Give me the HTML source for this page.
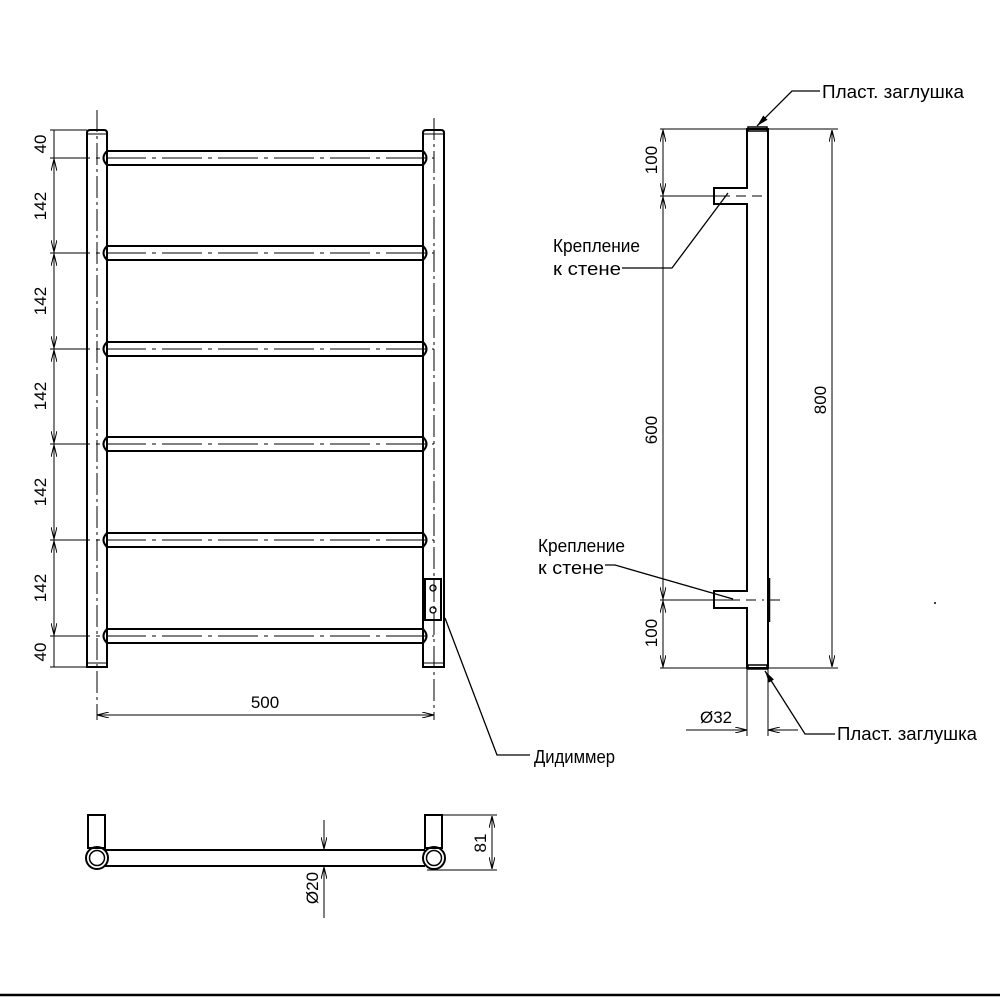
<!DOCTYPE html>
<html><head><meta charset="utf-8"><style>html,body{margin:0;padding:0;background:#fff}svg{display:block}</style></head>
<body>
<svg width="1000" height="1000" viewBox="0 0 1000 1000" xmlns="http://www.w3.org/2000/svg" font-family="'Liberation Sans', 'DejaVu Sans', sans-serif">
<defs>
<marker id="a" viewBox="0 0 12 6" refX="12" refY="3" markerWidth="12" markerHeight="6" orient="auto-start-reverse" markerUnits="userSpaceOnUse"><path d="M0,0 L12,3 L0,6" fill="none" stroke="#000" stroke-width="1"/></marker>
<marker id="b" viewBox="0 0 12 6" refX="12" refY="3" markerWidth="12" markerHeight="6" orient="auto" markerUnits="userSpaceOnUse"><path d="M0,0 L12,3 L0,6 z" fill="#000"/></marker>
</defs>
<rect width="1000" height="1000" fill="#fff"/>
<g fill="none" stroke="#000">
<path d="M87,667 V133 Q87,130 90,130 H104 Q107,130 107,133 V667 Z" stroke-width="2"/>
<path d="M423,667 V133 Q423,130 426,130 H441 Q444,130 444,133 V667 Z" stroke-width="2"/>
<line x1="87" y1="134" x2="107" y2="134" stroke-width="1"/>
<line x1="423" y1="134" x2="444" y2="134" stroke-width="1"/>
<line x1="87" y1="663" x2="107" y2="663" stroke-width="1"/>
<line x1="423" y1="663" x2="444" y2="663" stroke-width="1"/>
<line x1="97" y1="110" x2="97" y2="720" stroke-width="1" stroke-dasharray="22,4,3,4"/>
<line x1="434" y1="118" x2="434" y2="720" stroke-width="1" stroke-dasharray="22,4,3,4"/>
<g stroke-width="2">
<path d="M107,151 H423 M107,165 H423 M107,151 Q100,158 107,165 M423,151 Q430,158 423,165"/>
<path d="M107,246 H423 M107,260 H423 M107,246 Q100,253 107,260 M423,246 Q430,253 423,260"/>
<path d="M107,342 H423 M107,356 H423 M107,342 Q100,349 107,356 M423,342 Q430,349 423,356"/>
<path d="M107,437 H423 M107,451 H423 M107,437 Q100,444 107,451 M423,437 Q430,444 423,451"/>
<path d="M107,533 H423 M107,547 H423 M107,533 Q100,540 107,547 M423,533 Q430,540 423,547"/>
<path d="M107,629 H423 M107,643 H423 M107,629 Q100,636 107,643 M423,629 Q430,636 423,643"/>
</g>
<g stroke-width="1" stroke-dasharray="40,6,4,6">
<line x1="50" y1="158" x2="434" y2="158"/>
<line x1="50" y1="253" x2="434" y2="253"/>
<line x1="50" y1="349" x2="434" y2="349"/>
<line x1="50" y1="444" x2="434" y2="444"/>
<line x1="50" y1="540" x2="434" y2="540"/>
<line x1="50" y1="636" x2="434" y2="636"/>
</g>
<line x1="50" y1="130" x2="87" y2="130" stroke-width="1"/>
<line x1="50" y1="667" x2="87" y2="667" stroke-width="1"/>
<line x1="54" y1="130" x2="54" y2="667" stroke-width="1"/>
<g stroke-width="1" marker-end="url(#a)">
<line x1="54" y1="200" x2="54" y2="159"/><line x1="54" y1="210" x2="54" y2="252"/>
<line x1="54" y1="300" x2="54" y2="254"/><line x1="54" y1="300" x2="54" y2="348"/>
<line x1="54" y1="400" x2="54" y2="350"/><line x1="54" y1="400" x2="54" y2="443"/>
<line x1="54" y1="490" x2="54" y2="445"/><line x1="54" y1="490" x2="54" y2="539"/>
<line x1="54" y1="590" x2="54" y2="541"/><line x1="54" y1="590" x2="54" y2="635"/>
</g>
<line x1="97" y1="715" x2="434" y2="715" stroke-width="1" marker-start="url(#a)" marker-end="url(#a)"/>
<rect x="425" y="579" width="16" height="41" stroke-width="2"/>
<circle cx="433" cy="588" r="3" stroke-width="1.3"/>
<circle cx="433" cy="610" r="3" stroke-width="1.3"/>
<polyline points="445,618 497,755 530,755" stroke-width="1.3"/>
<path d="M747,129 V188 H714 V204 H747 V591 H714 V608 H747 V668 H768 V129 Z" stroke-width="2"/>
<rect x="748" y="127" width="19" height="4" stroke-width="1.5"/>
<rect x="748" y="665" width="19" height="4" stroke-width="1.5"/>
<line x1="769" y1="578" x2="769" y2="622" stroke-width="2.5"/>
<line x1="660" y1="196" x2="762" y2="196" stroke-width="1" stroke-dasharray="70,6,10,6"/>
<line x1="660" y1="600" x2="780" y2="600" stroke-width="1" stroke-dasharray="80,6,10,6,2,6"/>
<line x1="660" y1="129" x2="838" y2="129" stroke-width="1"/>
<line x1="660" y1="668" x2="838" y2="668" stroke-width="1"/>
<line x1="663" y1="129" x2="663" y2="668" stroke-width="1"/>
<g stroke-width="1" marker-end="url(#a)">
<line x1="663" y1="160" x2="663" y2="130"/><line x1="663" y1="160" x2="663" y2="195"/>
<line x1="663" y1="400" x2="663" y2="197"/><line x1="663" y1="400" x2="663" y2="599"/>
<line x1="663" y1="630" x2="663" y2="601"/><line x1="663" y1="630" x2="663" y2="667"/>
<line x1="832" y1="400" x2="832" y2="130"/><line x1="832" y1="400" x2="832" y2="667"/>
</g>
<line x1="747" y1="668" x2="747" y2="736" stroke-width="1"/>
<line x1="768" y1="668" x2="768" y2="736" stroke-width="1"/>
<line x1="686" y1="730" x2="747" y2="730" stroke-width="1" marker-end="url(#a)"/>
<line x1="798" y1="730" x2="768" y2="730" stroke-width="1" marker-end="url(#a)"/>
<polyline points="820,91 792,91 757,126" stroke-width="1.3" marker-end="url(#b)"/>
<polyline points="835,734 805,734 765,671" stroke-width="1.3" marker-end="url(#b)"/>
<polyline points="622,268 672,268 728,193" stroke-width="1.3"/>
<polyline points="605,565 615,565 733,599" stroke-width="1.3"/>
<rect x="88" y="815" width="17" height="33" stroke-width="2"/>
<rect x="425" y="815" width="17" height="33" stroke-width="2"/>
<line x1="105" y1="850" x2="425" y2="850" stroke-width="2"/>
<line x1="105" y1="866" x2="425" y2="866" stroke-width="2"/>
<circle cx="97" cy="858" r="11" stroke-width="2"/><circle cx="97" cy="858" r="7.5" stroke-width="1.5"/>
<circle cx="434" cy="858" r="11" stroke-width="2"/><circle cx="434" cy="858" r="7.5" stroke-width="1.5"/>
<line x1="442" y1="815" x2="497" y2="815" stroke-width="1"/>
<line x1="427" y1="870" x2="497" y2="870" stroke-width="1"/>
<line x1="492" y1="843" x2="492" y2="816" stroke-width="1" marker-end="url(#a)"/>
<line x1="492" y1="843" x2="492" y2="869" stroke-width="1" marker-end="url(#a)"/>
<line x1="324" y1="820" x2="324" y2="849" stroke-width="1" marker-end="url(#a)"/>
<line x1="324" y1="918" x2="324" y2="867" stroke-width="1" marker-end="url(#a)"/>
<line x1="0" y1="995" x2="1000" y2="995" stroke-width="2.5"/>
</g>
<circle cx="935" cy="603" r="1" fill="#000"/>
<g fill="#000" font-size="17">
<text transform="translate(46,144) rotate(-90)" text-anchor="middle">40</text>
<text transform="translate(46,206) rotate(-90)" text-anchor="middle">142</text>
<text transform="translate(46,301) rotate(-90)" text-anchor="middle">142</text>
<text transform="translate(46,396) rotate(-90)" text-anchor="middle">142</text>
<text transform="translate(46,492) rotate(-90)" text-anchor="middle">142</text>
<text transform="translate(46,588) rotate(-90)" text-anchor="middle">142</text>
<text transform="translate(46,652) rotate(-90)" text-anchor="middle">40</text>
<text x="265" y="708" text-anchor="middle">500</text>
<text transform="translate(657,160) rotate(-90)" text-anchor="middle">100</text>
<text transform="translate(657,430) rotate(-90)" text-anchor="middle">600</text>
<text transform="translate(657,633) rotate(-90)" text-anchor="middle">100</text>
<text transform="translate(826,400) rotate(-90)" text-anchor="middle">800</text>
<text x="700" y="723">Ø32</text>
<text transform="translate(486,843) rotate(-90)" text-anchor="middle">81</text>
<text transform="translate(318,888) rotate(-90)" text-anchor="middle">Ø20</text>
</g>
<g fill="#000" font-size="18">
<text x="822" y="98" textLength="142" lengthAdjust="spacingAndGlyphs">Пласт. заглушка</text>
<text x="837" y="740" textLength="140" lengthAdjust="spacingAndGlyphs">Пласт. заглушка</text>
<text x="553" y="252" textLength="87" lengthAdjust="spacingAndGlyphs">Крепление</text>
<text x="553" y="275" textLength="68" lengthAdjust="spacingAndGlyphs">к стене</text>
<text x="538" y="552" textLength="87" lengthAdjust="spacingAndGlyphs">Крепление</text>
<text x="538" y="574" textLength="66" lengthAdjust="spacingAndGlyphs">к стене</text>
<text x="534" y="763" textLength="81" lengthAdjust="spacingAndGlyphs">Дидиммер</text>
</g>
</svg>
</body></html>
